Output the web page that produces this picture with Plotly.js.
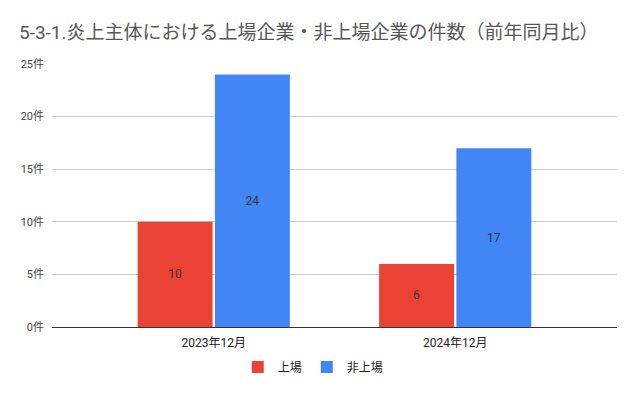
<!DOCTYPE html>
<html><head><meta charset="utf-8">
<script src="https://cdn.plot.ly/plotly-3.0.1.min.js"></script>
<style>html,body{margin:0;padding:0;background:#fff}</style>
</head><body>
<div id="chart" style="width:638px;height:395px"></div>
<script>
const categories = ["2023年12月", "2024年12月"];
const listed = [10, 6];
const unlisted = [24, 17];
const yTickVals = [0, 5, 10, 15, 20, 25];
const yTickText = ["0件", "5件", "10件", "15件", "20件", "25件"];
const FONT = "Roboto, 'Noto Sans CJK JP', sans-serif";

const traces = [
  {type: "bar", name: "上場", x: categories, y: listed, marker: {color: "#ea4335"},
   text: listed.map(String), textposition: "inside", insidetextanchor: "middle",
   textfont: {color: "#333333", size: 12, family: FONT}, hoverinfo: "skip"},
  {type: "bar", name: "非上場", x: categories, y: unlisted, marker: {color: "#4285f4"},
   text: unlisted.map(String), textposition: "inside", insidetextanchor: "middle",
   textfont: {color: "#333333", size: 12, family: FONT}, hoverinfo: "skip"}
];
const layout = {
  width: 638, height: 395,
  margin: {l: 52, r: 21, t: 64, b: 68, autoexpand: false},
  paper_bgcolor: "#fff", plot_bgcolor: "#fff",
  font: {family: FONT, size: 11, color: "#444"},
  title: {text: "5-3-1.炎上主体における上場企業・非上場企業の件数（前年同月比）",
          x: 0, xanchor: "left", xref: "container", y: 0.917, yref: "container", yanchor: "middle",
          pad: {l: 19}, font: {size: 19, color: "#575757", family: FONT}},
  barmode: "group", bargap: 0.36, bargroupgap: 0.03,
  xaxis: {range: [-0.67, 1.67], showgrid: false, showline: false, ticks: "",
          tickfont: {size: 12, color: "#222"}, ticklabelstandoff: 7, fixedrange: true, automargin: false},
  yaxis: {range: [0, 25], tickvals: yTickVals, ticktext: yTickText,
          gridcolor: "#cccccc", gridwidth: 1, zeroline: true, zerolinecolor: "#333", zerolinewidth: 1,
          tickfont: {size: 11, color: "#444"}, ticks: "", ticklabelstandoff: 7, fixedrange: true, automargin: false},
  showlegend: true,
  legend: {orientation: "h", x: 0.491, xref: "container", xanchor: "center", y: 0.071, yref: "container", yanchor: "middle",
           font: {size: 12, color: "#222"}, traceorder: "normal"}
};
Plotly.newPlot("chart", traces, layout, {displayModeBar: false, staticPlot: true});
</script>
</body></html>
